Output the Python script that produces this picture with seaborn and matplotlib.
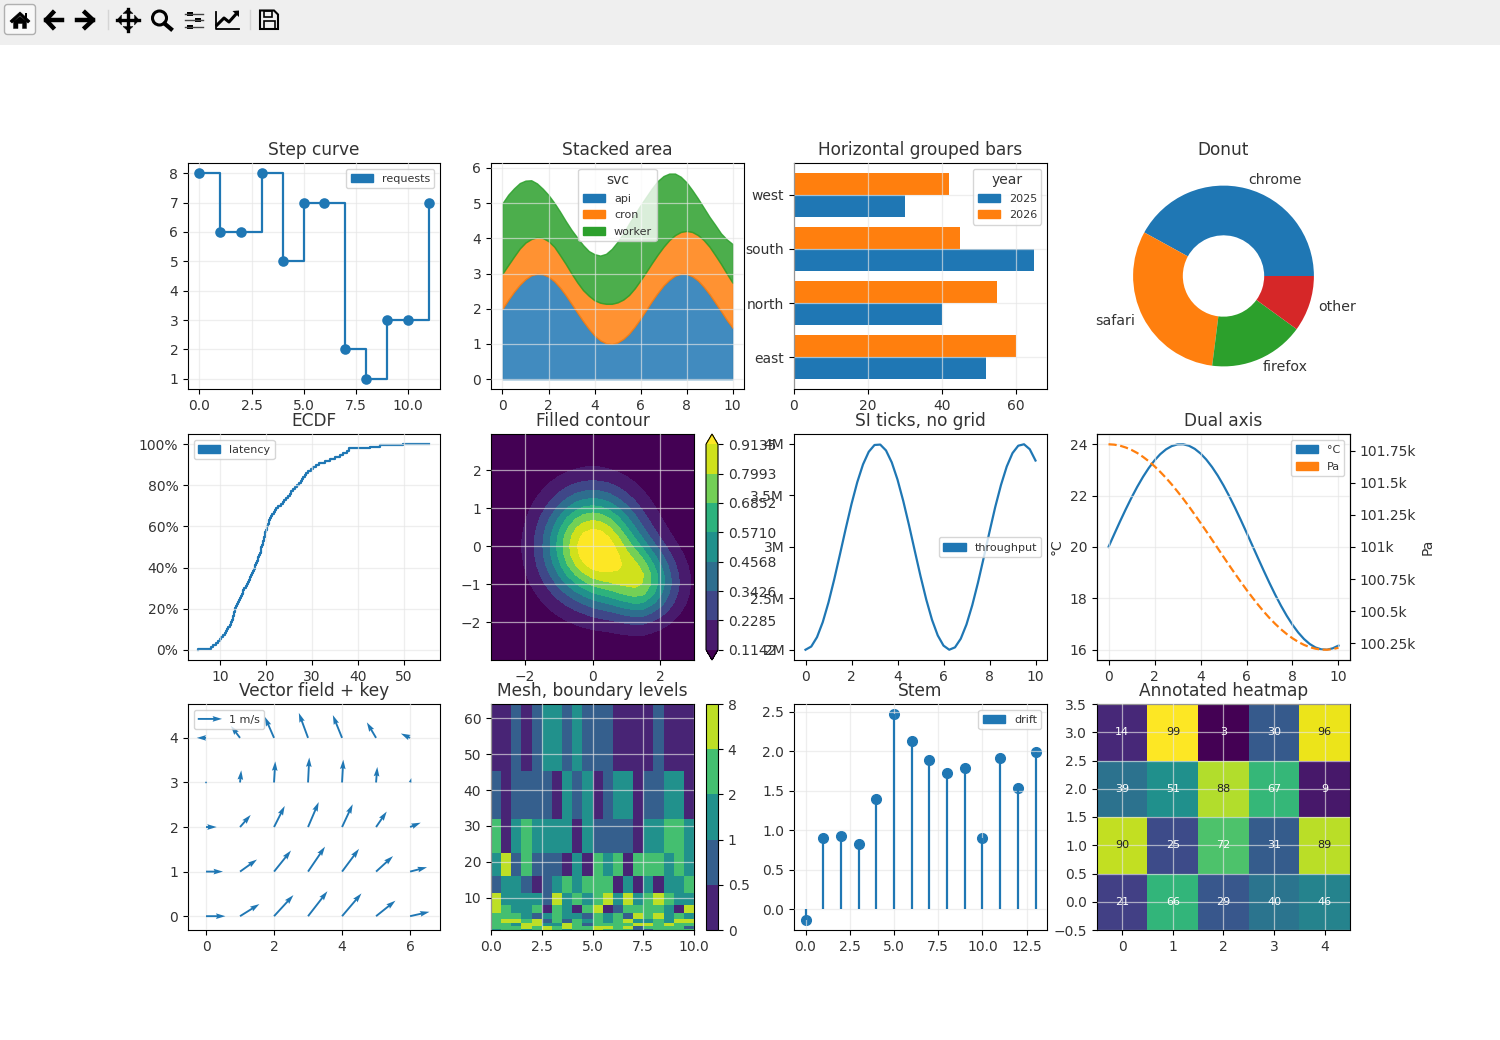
import numpy as np
import pandas as pd
import matplotlib
matplotlib.use("Agg")
import matplotlib.pyplot as plt
import seaborn as sns
from matplotlib.colors import BoundaryNorm, ListedColormap
from matplotlib.legend import Legend
from matplotlib.legend_handler import HandlerPatch
from matplotlib.lines import Line2D
from matplotlib.patches import Circle, FancyBboxPatch, Patch, Polygon, Rectangle
from matplotlib.ticker import EngFormatter, PercentFormatter

BLUE, ORANGE, GREEN, RED = "#1f77b4", "#ff7f0e", "#2ca02c", "#d62728"
W, H = 1500, 1040

# step curve
step_x = list(range(12))
step_y = [8, 6, 6, 8, 5, 7, 7, 2, 1, 3, 3, 7]

# stacked area, read every quarter unit
area_x = [i * 0.25 for i in range(41)]
api = [2.00, 2.25, 2.48, 2.68, 2.84, 2.95, 2.99, 2.98, 2.91, 2.78, 2.60, 2.38, 2.14, 1.89,
       1.65, 1.43, 1.24, 1.10, 1.02, 1.00, 1.04, 1.14, 1.29, 1.49, 1.72, 1.97, 2.22, 2.45,
       2.66, 2.82, 2.94, 2.99, 2.99, 2.92, 2.80, 2.62, 2.41, 2.17, 1.93, 1.68, 1.46]
cron = [1.00, 0.99, 1.00, 1.03, 1.04, 1.03, 1.04, 1.03, 1.01, 0.98, 0.92, 0.89, 0.86, 0.86,
        0.88, 0.94, 1.00, 1.07, 1.12, 1.14, 1.14, 1.12, 1.10, 1.09, 1.09, 1.08, 1.08, 1.09,
        1.10, 1.13, 1.15, 1.19, 1.22, 1.26, 1.29, 1.33, 1.35, 1.35, 1.34, 1.32, 1.28]
worker = [2.00, 2.00, 1.94, 1.86, 1.76, 1.67, 1.53, 1.40, 1.31, 1.25, 1.24, 1.22, 1.24, 1.27,
          1.28, 1.27, 1.31, 1.34, 1.42, 1.56, 1.72, 1.88, 2.03, 2.10, 2.13, 2.13, 2.12, 2.09,
          2.01, 1.89, 1.75, 1.57, 1.38, 1.19, 1.04, 0.92, 0.85, 0.86, 0.87, 0.97, 1.10]

# grouped bars
regions = ["east", "north", "south", "west"]
sales_2025 = [52, 40, 65, 30]
sales_2026 = [60, 55, 45, 42]

# donut
browsers = ["chrome", "safari", "firefox", "other"]
shares = [42, 31, 17, 10]

# ecdf samples; the ends weigh less because the steps are small there
latency = [5.2, 8.0, 8.5, 9.1, 9.6, 10.0, 10.3, 10.6, 11.0, 11.3, 11.5, 11.8, 12.1, 12.4,
           12.6, 12.8, 12.9, 13.0, 13.1, 13.2, 13.3, 13.5, 13.7, 13.9, 14.1, 14.3, 14.5,
           14.7, 14.9, 15.1, 15.3, 15.6, 15.8, 16.0, 16.3, 16.5, 16.7, 16.9, 17.1, 17.3,
           17.5, 17.7, 17.8, 18.0, 18.2, 18.3, 18.5, 18.6, 18.8, 18.9, 19.0, 19.2, 19.3,
           19.4, 19.5, 19.6, 19.7, 19.8, 20.0, 20.2, 20.3, 20.4, 20.6, 20.7, 20.9, 21.1,
           21.4, 21.7, 22.0, 22.2, 22.7, 23.2, 23.6, 24.0, 24.4, 24.8, 25.1, 25.4, 25.8,
           26.3, 26.7, 27.1, 27.5, 27.8, 28.1, 28.4, 28.7, 29.2, 29.8, 30.3, 30.9, 31.4,
           32.8, 33.8, 35.0, 36.0, 36.8, 37.5, 38.0, 42.5, 44.8, 49.7, 55.4]
latency_weight = [0.3] + [1.0] * 98 + [0.5, 1.2, 0.3, 0.05]

# filled contour, built from profiles read on a quarter unit grid
contour_x = [i * 0.25 - 3 for i in range(25)]
contour_y = [i * 0.25 - 3 for i in range(25)]
core_profile = [.0111, .0228, .0439, .0796, .1353, .2163, .3247, .4578, .6065, .7548, .8825, .9692, 1.0,
                .9692, .8825, .7548, .6065, .4578, .3247, .2163, .1353, .0796, .0439, .0228, .0111]
lobe_x = [0, 0, 0, 0, .0001, .0003, .0012, .003, .008, .02, .045, .09, .17,
          .27, .40, .58, .76, .93, .99, .90, .75, .56, .38, .24, .129]
lobe_y = [.0094, .0248, .0578, .118, .2121, .334, .4627, .562, .6, .562, .4627, .334, .2121,
          .118, .0578, .0248, .0094, .003, .0009, .0002, 0, 0, 0, 0, 0]
contour_levels = [0.1142, 0.2285, 0.3426, 0.4568, 0.5710, 0.6852, 0.7993, 0.9135]

# si ticks and dual axis, same x
line_x = [i * 0.25 for i in range(41)]
throughput_m = [2.000, 2.031, 2.122, 2.268, 2.460, 2.685, 2.929, 3.178, 3.416, 3.628, 3.801, 3.924, 3.990,
                3.994, 3.937, 3.821, 3.654, 3.446, 3.211, 2.962, 2.716, 2.488, 2.291, 2.139, 2.040, 2.000,
                2.023, 2.107, 2.246, 2.432, 2.653, 2.896, 3.146, 3.388, 3.602, 3.781, 3.911, 3.983, 3.997,
                3.949, 3.839]
temp_c = [20.000, 20.499, 20.990, 21.465, 21.918, 22.340, 22.726, 23.070, 23.366, 23.609, 23.796, 23.924,
          23.990, 23.994, 23.936, 23.816, 23.637, 23.401, 23.112, 22.776, 22.394, 21.976, 21.527, 21.053,
          20.564, 20.066, 19.567, 19.075, 18.597, 18.140, 17.714, 17.323, 16.973, 16.671, 16.420, 16.225,
          16.090, 16.017, 16.003, 16.058, 16.164]
pressure_pa = [101800, 101797, 101789, 101775, 101756, 101732, 101702, 101668, 101629, 101585, 101538,
               101487, 101432, 101375, 101315, 101252, 101188, 101123, 101057, 100990, 100923, 100857,
               100792, 100729, 100667, 100608, 100551, 100497, 100447, 100401, 100359, 100322, 100289,
               100261, 100238, 100220, 100208, 100201, 100200, 100205, 100215]

# vector field
field_x = [0, 1, 2, 3, 4, 5, 6]
field_y = [0, 1, 2, 3, 4]
field_u = [0.80, 0.70, 0.44, 0.05, -0.38]
field_v = [0.0, 0.50, 0.87, 1.03, 0.94, 0.64, 0.18]

# mesh, colour bin of every cell, bottom row first
mesh_x = [i * 0.5 for i in range(21)]
mesh_y = [1, 1.41, 2, 2.83, 4, 5.66, 8, 11.3, 16, 22.6, 32, 45.25, 64]
mesh_levels = [0, 0.5, 1, 2, 4, 8]
mesh_mid = [0.25, 0.75, 1.5, 3, 6]
mesh_bins = [
    [2, 3, 3, 2, 3, 4, 3, 2, 3, 3, 4, 3, 3, 3, 1, 1, 3, 3, 3, 3],
    [3, 3, 3, 4, 3, 4, 3, 4, 3, 3, 4, 4, 3, 4, 1, 3, 3, 3, 3, 1],
    [3, 3, 2, 4, 4, 2, 2, 4, 3, 1, 3, 3, 3, 3, 4, 4, 3, 4, 3, 3],
    [3, 4, 4, 3, 4, 1, 3, 1, 3, 2, 3, 2, 3, 4, 2, 2, 3, 2, 4, 4],
    [3, 3, 3, 2, 1, 2, 3, 2, 2, 1, 3, 2, 3, 1, 4, 3, 4, 2, 3, 2],
    [4, 3, 2, 2, 3, 0, 3, 2, 0, 3, 4, 0, 1, 3, 3, 3, 3, 2, 0, 4],
    [4, 2, 2, 2, 2, 1, 4, 2, 3, 2, 3, 4, 2, 4, 2, 3, 4, 3, 2, 2],
    [1, 2, 2, 1, 0, 1, 2, 3, 2, 3, 3, 3, 0, 2, 0, 2, 0, 2, 2, 3],
    [2, 4, 1, 3, 1, 1, 1, 0, 2, 0, 3, 2, 3, 0, 3, 3, 3, 2, 3, 2],
    [3, 0, 2, 3, 2, 2, 2, 2, 0, 2, 1, 1, 1, 1, 0, 2, 2, 3, 3, 2],
    [1, 0, 1, 1, 1, 1, 0, 2, 1, 2, 0, 1, 2, 2, 0, 1, 1, 2, 2, 0],
    [0, 0, 1, 0, 1, 2, 2, 1, 2, 1, 1, 1, 0, 0, 0, 0, 1, 0, 0, 0],
]

# stem
stem_x = list(range(14))
stem_y = [-0.135, 0.905, 0.93, 0.83, 1.40, 2.47, 2.13, 1.885, 1.72, 1.795, 0.905, 1.92, 1.53, 1.99]

# annotated heatmap, bottom row first
heat_values = [
    [21, 66, 29, 40, 46],
    [90, 25, 72, 31, 89],
    [39, 51, 88, 67, 9],
    [14, 99, 3, 30, 96],
]

plt.rcParams["font.family"] = "DejaVu Sans"
plt.rcParams["axes.axisbelow"] = False
plt.rcParams["text.color"] = "#333333"
plt.rcParams["axes.titlecolor"] = "#333333"
plt.rcParams["axes.labelcolor"] = "#333333"
plt.rcParams["xtick.labelcolor"] = "#333333"
plt.rcParams["ytick.labelcolor"] = "#333333"
plt.rcParams["legend.fontsize"] = 8
plt.rcParams["legend.handleheight"] = 1.08
plt.rcParams["lines.linewidth"] = 1.6


def thin_patch(legend, orig_handle, xdescent, ydescent, width, height, fontsize):
    # rows are taller than the default but the colour chips keep their height
    return Rectangle((-xdescent, 0), width, 0.7 * fontsize)


Legend.update_default_handler_map({Patch: HandlerPatch(patch_func=thin_patch)})

fig = plt.figure(figsize=(15, 10.4), dpi=100)


def px_axes(x0, y0, x1, y1):
    return fig.add_axes([x0 / W, 1 - y1 / H, (x1 - x0) / W, (y1 - y0) / H])


def style(ax, title, grid=True):
    ax.set_title(title, fontsize=12.25, pad=6)
    ax.set_xlabel("")
    ax.set_ylabel("")
    if grid:
        ax.grid(True, color="#e6e6e6", lw=0.9, alpha=0.65)


def key(color, label):
    return Patch(color=color, label=label)


def draw_toolbar():
    tb = fig.add_axes([0, 0, 1, 1], zorder=-1)
    tb.set_xlim(0, W)
    tb.set_ylim(H, 0)
    tb.axis("off")
    tb.add_patch(Rectangle((0, 0), W, 44.5, fc="#efefef", ec="none"))
    tb.add_patch(FancyBboxPatch((6, 6), 28, 27, boxstyle="round,pad=1.5,rounding_size=3",
                                fc="#f8f8f8", ec="#b0b0b0", lw=1))
    k = "black"
    tb.add_patch(Polygon([(10, 21), (20, 12), (30, 21), (28, 23), (20, 15.5), (12, 23)], fc=k, ec=k, lw=0.5))
    tb.add_patch(Polygon([(13.5, 21.5), (20, 16.5), (26.5, 21.5), (26.5, 28.5), (22.5, 28.5), (22.5, 23.5),
                          (18, 23.5), (18, 28.5), (13.5, 28.5)], fc=k, ec=k, lw=0.3))
    tb.add_patch(Rectangle((24.5, 12.5), 2.5, 5, fc=k))
    for pts in ([(53, 12.5), (46, 20), (53, 27.5)], [(46, 20), (62, 20)],
                [(85, 12.5), (93, 20), (85, 27.5)], [(77, 20), (93, 20)]):
        tb.add_line(Line2D(*zip(*pts), color=k, lw=3.2))
    tb.add_line(Line2D([117, 139], [20, 20], color=k, lw=2.4))
    tb.add_line(Line2D([128, 128], [9, 31], color=k, lw=2.4))
    for tri in ([(117, 20), (121.5, 15), (121.5, 25)], [(139, 20), (134.5, 15), (134.5, 25)],
                [(128, 9), (123, 13.5), (133, 13.5)], [(128, 31), (123, 26.5), (133, 26.5)]):
        tb.add_patch(Polygon(tri, fc=k, ec=k, lw=0.3))
    tb.add_patch(Circle((159.5, 18), 7, fc="none", ec=k, lw=2.2))
    tb.add_line(Line2D([164.5, 171], [23.5, 29], color=k, lw=3))
    for yy, kx in ((14, 190), (20, 198), (27, 190)):
        tb.add_line(Line2D([185, 203], [yy, yy], color="#444444", lw=1))
        tb.add_patch(Rectangle((kx - 3, yy - 2), 6, 4, fc=k))
    tb.add_line(Line2D([216, 216, 239], [12, 28.5, 28.5], color=k, lw=1.3))
    tb.add_line(Line2D([217, 224, 229, 237], [25, 18, 22, 13], color=k, lw=2.2))
    tb.add_patch(Polygon([(239, 10.5), (239, 17), (232.5, 11)], fc=k))
    tb.add_patch(Polygon([(260, 10.5), (274, 10.5), (278, 14.5), (278, 29), (260, 29)], fc="none", ec=k, lw=1.5))
    tb.add_patch(Rectangle((264, 11), 8, 6, fc="none", ec=k, lw=1.2))
    tb.add_patch(Rectangle((263.5, 21), 11, 8, fc="none", ec=k, lw=1.2))
    for sx in (107.5, 249.5):
        tb.add_line(Line2D([sx, sx], [10, 29], color="#d5d5d5", lw=1))


draw_toolbar()

# row 1
ax = px_axes(188, 163, 440, 389)
sns.lineplot(x=step_x, y=step_y, drawstyle="steps-post", color=BLUE, ax=ax, errorbar=None, zorder=3)
sns.scatterplot(x=step_x, y=step_y, color=BLUE, s=58, linewidth=0, ax=ax, zorder=3)
style(ax, "Step curve")
ax.legend(handles=[key(BLUE, "requests")], loc="upper right")

ax = px_axes(491, 163, 744, 389)
ax.stackplot(area_x, api, cron, worker, colors=[BLUE, ORANGE, GREEN], alpha=0.85, linewidth=1, edgecolor="face")
ax.set_xlim(-0.5, 10.5)
ax.set_ylim(-0.28, 6.14)
style(ax, "Stacked area")
ax.legend(handles=[key(BLUE, "api"), key(ORANGE, "cron"), key(GREEN, "worker")], title="svc", loc="upper center")

bars = pd.DataFrame({
    "region": regions * 2,
    "sales": sales_2025 + sales_2026,
    "year": ["2025"] * len(regions) + ["2026"] * len(regions),
})
ax = px_axes(794, 163, 1047, 389)
sns.barplot(data=bars, y="region", x="sales", hue="year", order=regions, hue_order=["2025", "2026"],
            palette=[BLUE, ORANGE], saturation=1, width=0.8, gap=0, legend=False, ax=ax)
ax.set_xlim(0, 68.4)
ax.set_ylim(-0.59, 3.59)
style(ax, "Horizontal grouped bars")
ax.legend(handles=[key(BLUE, "2025"), key(ORANGE, "2026")], title="year", loc="upper right")

ax = px_axes(1097, 163, 1350, 389)
ax.pie(shares, labels=browsers, colors=[BLUE, ORANGE, GREEN, RED], wedgeprops={"width": 0.55},
       textprops={"fontsize": 10.2})
ax.set_title("Donut", fontsize=12.25, pad=6)

# row 2
ax = px_axes(188, 434, 440, 660)
sns.ecdfplot(x=latency, weights=latency_weight, color=BLUE, ax=ax)
ax.set_xlim(3.04, 57.8)
ax.set_ylim(-0.05, 1.05)
ax.yaxis.set_major_formatter(PercentFormatter(1, decimals=0))
style(ax, "ECDF")
ax.legend(handles=[key(BLUE, "latency")], loc="upper left")

ax = px_axes(491, 434, 694, 660)
contour_z = np.outer(core_profile, core_profile) + np.outer(lobe_y, lobe_x)
cs = ax.contourf(contour_x, contour_y, contour_z, levels=contour_levels, cmap="viridis", extend="both")
ax.set_ylim(-3, 2.95)
ax.set_xticks([-2, 0, 2])
ax.set_yticks([-2, -1, 0, 1, 2])
style(ax, "Filled contour")
cax = px_axes(706, 434, 718, 660)
fig.colorbar(cs, cax=cax, ticks=contour_levels, format="%.4f")

ax = px_axes(794, 434, 1047, 660)
sns.lineplot(x=line_x, y=[v * 1e6 for v in throughput_m], color=BLUE, ax=ax, errorbar=None)
ax.yaxis.set_major_formatter(EngFormatter(sep=""))
style(ax, "SI ticks, no grid", grid=False)
ax.legend(handles=[key(BLUE, "throughput")], loc="center right")

ax = px_axes(1097, 434, 1350, 660)
sns.lineplot(x=line_x, y=temp_c, color=BLUE, ax=ax, errorbar=None)
style(ax, "Dual axis")
ax.set_ylabel("°C", labelpad=4)
ax2 = ax.twinx()
sns.lineplot(x=line_x, y=pressure_pa, color=ORANGE, linestyle="--", ax=ax2, errorbar=None)
ax2.yaxis.set_major_formatter(EngFormatter(sep=""))
ax2.set_ylabel("Pa", labelpad=3)
ax2.legend(handles=[key(BLUE, "°C"), key(ORANGE, "Pa")], loc="upper right")

# row 3
ax = px_axes(188, 704, 440, 930)
gx, gy = np.meshgrid(field_x, field_y)
gu = np.repeat(np.array(field_u)[:, None], len(field_x), axis=1)
gv = np.repeat(np.array(field_v)[None, :], len(field_y), axis=0)
q = ax.quiver(gx, gy, gu, gv, color=BLUE, scale=10.4, scale_units="width", width=0.0075, zorder=3)
ax.set_xlim(-0.53, 6.88)
ax.set_ylim(-0.31, 4.76)
style(ax, "Vector field + key")
ax.legend(handles=[Patch(fc="none", ec="none", label="1 m/s")], loc="upper left")
qk = ax.quiverkey(q, 0.135, 0.934, 1, "", labelpos="E", coordinates="axes")
qk.set_zorder(6)

ax = px_axes(491, 704, 694, 930)
mesh_cmap = ListedColormap(plt.cm.viridis([0.1, 0.3, 0.5, 0.7, 0.9]))
mesh_norm = BoundaryNorm(mesh_levels, 5)
pm = ax.pcolormesh(mesh_x, mesh_y, np.take(mesh_mid, mesh_bins), cmap=mesh_cmap, norm=mesh_norm)
ax.set_yticks([10, 20, 30, 40, 50, 60])
style(ax, "Mesh, boundary levels")
cax = px_axes(706, 704, 718, 930)
fig.colorbar(pm, cax=cax, ticks=mesh_levels, format="%g")

ax = px_axes(794, 704, 1047, 930)
stem = ax.stem(stem_x, stem_y, linefmt=BLUE, markerfmt="o", basefmt=" ")
stem.markerline.set_markersize(7)
stem.stemlines.set_zorder(3)
style(ax, "Stem")
ax.legend(handles=[key(BLUE, "drift")], loc="upper right")

ax = px_axes(1097, 704, 1350, 930)
ax.imshow(heat_values, origin="lower", aspect="auto", cmap="viridis")
for row, vals in enumerate(heat_values):
    for col, v in enumerate(vals):
        ax.text(col, row, str(v), ha="center", va="center", fontsize=8,
                color="#222222" if v > 75 else "white")
style(ax, "Annotated heatmap")

fig.savefig("out.png", dpi=100)
